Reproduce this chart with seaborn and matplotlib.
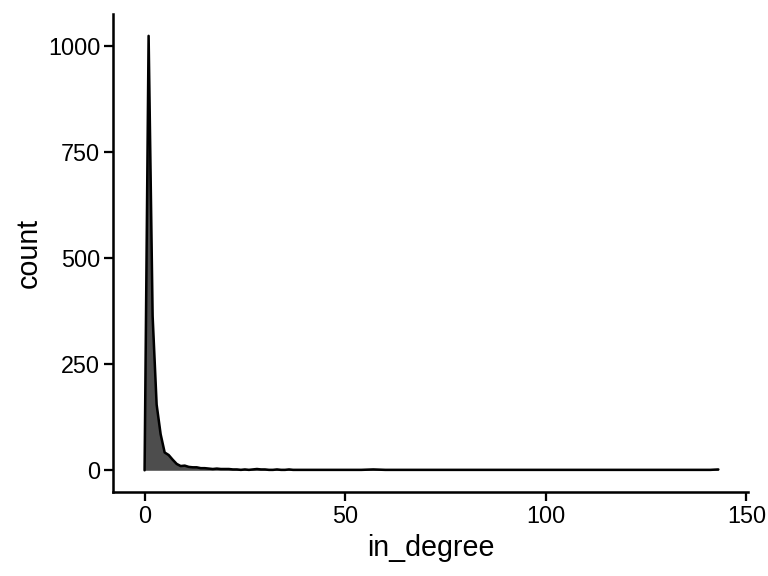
import numpy as np
import pandas as pd
import matplotlib
matplotlib.use("Agg")
import matplotlib.pyplot as plt
import seaborn as sns

sns.set_theme(style="ticks")
plt.rcParams['font.family'] = ['Liberation Sans', 'DejaVu Sans']

# in-degree values and how many nodes have them
degree = [0, 1, 2, 3, 4, 5, 6, 7, 8, 9, 10, 11, 12, 13, 14, 15, 16, 17, 18, 19,
          20, 21, 22, 23, 24, 25, 26, 27, 28, 29, 30, 31, 32, 33, 34, 35, 36, 37,
          38, 40, 43, 46, 50, 54, 57, 60, 66, 75, 88, 103, 120, 141, 143]
count = [0, 1025, 364, 155, 85, 42, 36, 25, 15, 10, 11, 8, 7, 7, 5, 5, 4, 3, 4, 3,
         3, 3, 2, 2, 1, 2, 1, 2, 3, 2, 2, 1, 1, 2, 1, 1, 2, 1,
         1, 1, 1, 1, 1, 1, 2, 1, 1, 1, 1, 1, 1, 1, 2]

df = pd.DataFrame({'in_degree': degree, 'count': count})

fig = plt.figure(figsize=(8, 6), dpi=96)
ax = fig.add_axes([0.147, 0.146, 0.827, 0.830])

ax.fill_between(df['in_degree'], df['count'], color='#4D4D4D', linewidth=0)
sns.lineplot(data=df, x='in_degree', y='count', color='black', linewidth=1.9, ax=ax)

ax.set_xlim(-7.9, 150.4)
ax.set_ylim(-51, 1077)
ax.set_xticks([0, 50, 100, 150])
ax.set_yticks([0, 250, 500, 750, 1000])
ax.set_xlabel('in_degree', fontsize=21.5, color='black', labelpad=5)
ax.set_ylabel('count', fontsize=21.5, color='black', labelpad=4)
ax.tick_params(labelsize=17.5, colors='black', length=6.5, width=1.7, pad=3)

sns.despine(ax=ax)
for s in ['left', 'bottom']:
    ax.spines[s].set_linewidth(1.9)
    ax.spines[s].set_color('black')

fig.savefig('out.png', dpi=96)
